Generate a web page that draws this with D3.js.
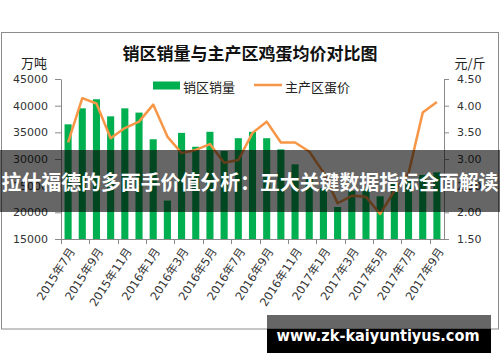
<!DOCTYPE html>
<html>
<head>
<meta charset="utf-8">
<script src="https://cdn.jsdelivr.net/npm/d3@7"></script>
<style>
body { margin: 0; background: #fff; }
svg { display: block; }
</style>
</head>
<body>
<svg id="chart" width="500" height="362"></svg>
<script>
const months = ["2015年7月","2015年8月","2015年9月","2015年10月","2015年11月","2015年12月",
	"2016年1月","2016年2月","2016年3月","2016年4月","2016年5月","2016年6月","2016年7月","2016年8月",
	"2016年9月","2016年10月","2016年11月","2016年12月","2017年1月","2017年2月","2017年3月","2017年4月",
	"2017年5月","2017年6月","2017年7月","2017年8月","2017年9月"];
// 销区销量, 万吨
const sales = [36500,39500,41200,38000,39500,38700,33700,22200,34900,32300,35100,31500,33900,35100,
	33900,31800,29000,26500,24500,21000,24000,24500,23000,25500,26000,27000,27500];
// 主产区蛋价, 元/斤
const prices = [3.31,4.14,4.04,3.39,3.58,3.70,4.02,3.42,3.11,3.17,3.28,2.93,2.98,3.49,3.70,3.31,
	3.31,3.14,2.75,2.17,2.31,2.29,1.97,2.40,2.73,3.87,4.07];
const leftTicks = [15000,20000,25000,30000,35000,40000,45000];
const rightTicks = [1.5,2.0,2.5,3.0,3.5,4.0,4.5];

const axisColor = '#898989';
const numFont = '"DejaVu Sans", "Noto Sans CJK SC", sans-serif';
const cjkFont = '"Noto Sans CJK SC", sans-serif';

const svg = d3.select('#chart');

// chart frame
svg.append('rect')
	.attr('x', 1.5).attr('y', 32.5).attr('width', 497).attr('height', 296.5)
	.attr('fill', '#fff').attr('stroke', '#8c8c8c');

const x = d3.scaleBand().domain(months).range([61, 444]).paddingInner(0.5).paddingOuter(0.25);
const yL = d3.scaleLinear().domain([15000, 45000]).range([239, 79]);
const yR = d3.scaleLinear().domain([1.5, 4.5]).range([239, 79]);

// title
svg.append('text')
	.attr('x', 250).attr('y', 52)
	.attr('text-anchor', 'middle').attr('dominant-baseline', 'central')
	.attr('font-family', cjkFont).attr('font-weight', 'bold').attr('font-size', 17)
	.attr('fill', '#111')
	.text('销区销量与主产区鸡蛋均价对比图');

// unit labels
svg.append('text').attr('x', 34).attr('y', 62)
	.attr('text-anchor', 'middle').attr('dominant-baseline', 'central')
	.attr('font-family', cjkFont).attr('font-size', 13).attr('fill', '#222').text('万吨');
svg.append('text').attr('x', 470).attr('y', 62)
	.attr('text-anchor', 'middle').attr('dominant-baseline', 'central')
	.attr('font-family', cjkFont).attr('font-size', 13).attr('fill', '#222').text('元/斤');

// bars
svg.append('g')
	.selectAll('rect')
	.data(sales)
	.join('rect')
		.attr('x', (d, i) => x(months[i]))
		.attr('y', d => yL(d))
		.attr('width', x.bandwidth())
		.attr('height', d => yL(15000) - yL(d))
		.attr('fill', '#00b050');

// price line
const line = d3.line()
	.x((d, i) => x(months[i]) + x.bandwidth() / 2)
	.y(d => yR(d));

svg.append('path')
	.datum(prices)
	.attr('d', line)
	.attr('fill', 'none')
	.attr('stroke', '#f79646')
	.attr('stroke-width', 2.5)
	.attr('stroke-linejoin', 'round');

// left axis
const gL = svg.append('g')
	.attr('transform', 'translate(61,0)')
	.call(d3.axisLeft(yL).tickValues(leftTicks).tickSize(6).tickPadding(7).tickSizeOuter(0).tickFormat(d3.format('d')));
// right axis
const gR = svg.append('g')
	.attr('transform', 'translate(444,0)')
	.call(d3.axisRight(yR).tickValues(rightTicks).tickSize(5).tickPadding(8).tickSizeOuter(0).tickFormat(d3.format('.2f')));

[gL, gR].forEach(g => {
	g.select('.domain').attr('stroke', axisColor);
	g.selectAll('.tick line').attr('stroke', axisColor);
	g.selectAll('.tick text').attr('font-family', numFont).attr('font-size', 11).attr('fill', '#333');
});

// bottom axis: ticks between every two categories, labels every other month
const gB = svg.append('g');
gB.append('line')
	.attr('x1', 61).attr('x2', 444).attr('y1', 239.5).attr('y2', 239.5)
	.attr('stroke', axisColor);

const labelled = months.filter((m, i) => i % 2 === 0);

gB.selectAll('line.tick')
	.data(labelled)
	.join('line')
		.attr('class', 'tick')
		.attr('x1', d => Math.round(x(d) - x.step() * 0.25) + 0.5)
		.attr('x2', d => Math.round(x(d) - x.step() * 0.25) + 0.5)
		.attr('y1', 239).attr('y2', 244)
		.attr('stroke', axisColor);

gB.selectAll('text')
	.data(labelled)
	.join('text')
		.attr('transform', d => 'translate(' + (x(d) + x.bandwidth() / 2 + 4) + ',249) rotate(-57)')
		.attr('text-anchor', 'end')
		.attr('dominant-baseline', 'central')
		.attr('font-family', numFont)
		.attr('font-size', 11.5)
		.attr('fill', '#333')
		.text(d => d);

// legend
svg.append('rect').attr('x', 153).attr('y', 81.5).attr('width', 27).attr('height', 8).attr('fill', '#00b050');
svg.append('text').attr('x', 183).attr('y', 86)
	.attr('dominant-baseline', 'central')
	.attr('font-family', cjkFont).attr('font-size', 13).attr('fill', '#222').text('销区销量');
svg.append('line').attr('x1', 254).attr('x2', 282).attr('y1', 85).attr('y2', 85)
	.attr('stroke', '#f79646').attr('stroke-width', 2.5);
svg.append('text').attr('x', 285).attr('y', 86)
	.attr('dominant-baseline', 'central')
	.attr('font-family', cjkFont).attr('font-size', 13).attr('fill', '#222').text('主产区蛋价');

// headline banner over the chart
svg.append('rect').attr('x', 0).attr('y', 150).attr('width', 500).attr('height', 62)
	.attr('fill', 'rgba(0,0,0,0.6)');
svg.append('text')
	.attr('x', 250).attr('y', 181)
	.attr('text-anchor', 'middle').attr('dominant-baseline', 'central')
	.attr('font-family', cjkFont).attr('font-weight', 'bold').attr('font-size', 20)
	.attr('textLength', 497).attr('lengthAdjust', 'spacingAndGlyphs')
	.attr('fill', '#fff')
	.text('拉什福德的多面手价值分析：五大关键数据指标全面解读');

// site badge
svg.append('rect').attr('x', 267).attr('y', 315).attr('width', 224).attr('height', 14)
	.attr('fill', 'rgba(0,0,0,0.6)');
svg.append('rect').attr('x', 267).attr('y', 329).attr('width', 224).attr('height', 24)
	.attr('fill', '#000');
svg.append('text')
	.attr('x', 378).attr('y', 341)
	.attr('text-anchor', 'middle')
	.attr('font-family', numFont).attr('font-weight', 'bold').attr('font-size', 16)
	.attr('textLength', 203).attr('lengthAdjust', 'spacingAndGlyphs')
	.attr('fill', '#fff')
	.text('www.zk-kaiyuntiyus.com');
</script>
</body>
</html>
